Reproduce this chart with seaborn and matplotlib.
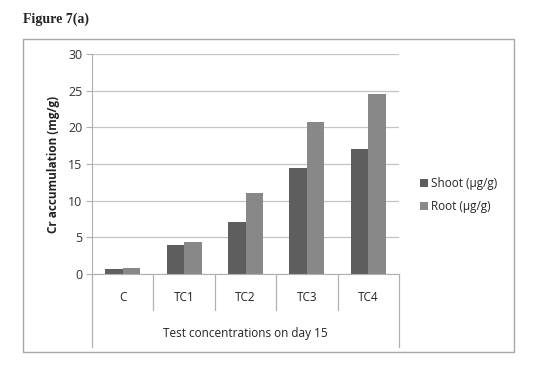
import matplotlib
matplotlib.use("Agg")
import matplotlib.pyplot as plt
import seaborn as sns
import pandas as pd
from matplotlib.patches import Rectangle, Patch

categories = ["C", "TC1", "TC2", "TC3", "TC4"]
shoot = [0.7, 4.0, 7.1, 14.5, 17.1]
root = [0.8, 4.4, 11.0, 20.7, 24.5]
series_names = ["Shoot (µg/g)", "Root (µg/g)"]
colors = ["#5e5e5e", "#888888"]

df = pd.DataFrame({
    "cat": categories * 2,
    "val": shoot + root,
    "series": [series_names[0]] * len(categories) + [series_names[1]] * len(categories),
})

sns.set_style("white")
plt.rcParams["font.family"] = ["Open Sans", "DejaVu Sans"]

fig = plt.figure(figsize=(5.39, 3.79), dpi=100)
ax = fig.add_axes([92/539, 1-274/379, (399-92)/539, (274-54)/379])

sns.barplot(data=df, x="cat", y="val", hue="series", order=categories,
            hue_order=series_names, palette=colors, width=0.57,
            saturation=1, ax=ax, legend=False, linewidth=0)

ax.set_ylim(0, 30)
ax.set_xlim(-0.5, len(categories) - 0.5)
ax.set_yticks(range(0, 31, 5))
ax.yaxis.grid(True, color="#c4c4c4", linewidth=0.9)
ax.set_axisbelow(True)
for s in ["top", "right"]:
    ax.spines[s].set_visible(False)
ax.spines["left"].set_color("#b0b0b0")
ax.spines["bottom"].set_color("#b0b0b0")
ax.tick_params(axis="y", length=4, color="#b0b0b0", labelsize=9, pad=3, labelcolor="#333333", left=True)
ax.tick_params(axis="x", length=0, pad=12, labelsize=8.5, labelcolor="#222222")
ax.set_ylabel("Cr accumulation (mg/g)", fontsize=8.5, fontweight="bold", labelpad=6, color="#222222")
ax.set_xlabel("Test concentrations on day 15", fontsize=8.5, labelpad=17, color="#222222")

tr = ax.get_xaxis_transform()
for k in range(len(categories) + 1):
    x = -0.5 + k
    y_end = -0.332 if k in (0, len(categories)) else -0.164
    ax.plot([x, x], [0, y_end], transform=tr, color="#b0b0b0", lw=0.9, clip_on=False)

handles = [Patch(facecolor=c, edgecolor="none") for c in colors]
fig.legend(handles, series_names, loc="center left", bbox_to_anchor=(0.76, 0.485),
           frameon=False, fontsize=8.5, handlelength=0.65, handleheight=0.65,
           handletextpad=0.3, labelspacing=0.85)

fig.patches.append(Rectangle((23/539, 1-352/379), 491/539, 313/379, transform=fig.transFigure,
                             fill=False, edgecolor="#a8a8a8", lw=1.0))
fig.text(23/539, 1-19/379, "Figure 7(a)", family=["Liberation Serif"], fontweight="bold",
         fontsize=10, va="center", ha="left")

fig.savefig("out.png", dpi=100)
